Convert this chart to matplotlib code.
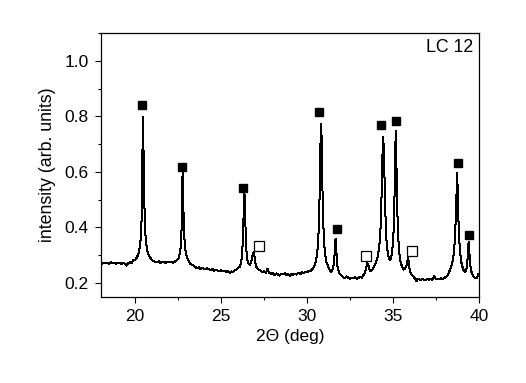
import matplotlib
matplotlib.use("Agg")
import matplotlib.pyplot as plt
from matplotlib.ticker import MultipleLocator

plt.rcParams['font.family'] = ['Liberation Sans', 'DejaVu Sans']

# ---- data ----
two_theta = [
    18.0, 18.1, 18.2, 18.3, 18.4, 18.5, 18.6, 18.7, 18.8, 18.9,
    19.0, 19.1, 19.2, 19.3, 19.4, 19.5, 19.6, 19.7, 19.8, 19.9,
    20.00, 20.10, 20.20, 20.25, 20.30, 20.35, 20.39, 20.42, 20.44, 20.46,
    20.48, 20.51, 20.55, 20.60, 20.65, 20.72, 20.80, 20.90, 21.00, 21.10,
    21.2, 21.3, 21.4, 21.5, 21.6, 21.7, 21.8, 21.9, 22.0, 22.1, 22.2, 22.3, 22.4, 22.5,
    22.55, 22.62, 22.67, 22.70, 22.73, 22.75, 22.77, 22.79, 22.82, 22.86,
    22.92, 23.00, 23.10, 23.20, 23.30,
    23.4, 23.5, 23.6, 23.7, 23.8, 23.9, 24.0, 24.1, 24.2, 24.3, 24.4, 24.5,
    24.6, 24.7, 24.8, 24.9, 25.0, 25.1, 25.2, 25.3, 25.4, 25.5, 25.6, 25.7,
    25.8, 25.9, 26.0,
    26.10, 26.17, 26.22, 26.27, 26.30, 26.33, 26.36, 26.39, 26.42, 26.46,
    26.52, 26.60, 26.68, 26.74, 26.80, 26.86, 26.90, 26.95, 27.00, 27.06,
    27.12, 27.18,
    27.3, 27.4, 27.5, 27.6, 27.7, 27.8, 27.9, 28.0, 28.1, 28.2, 28.3, 28.4,
    28.5, 28.6, 28.7, 28.8, 28.9, 29.0, 29.1, 29.2, 29.3, 29.4, 29.5, 29.6,
    29.7, 29.8, 29.9, 30.0, 30.1,
    30.12, 30.27, 30.42, 30.52, 30.60, 30.66, 30.70, 30.74, 30.77, 30.79,
    30.82, 30.85, 30.87, 30.90, 30.94, 30.98, 31.04, 31.12, 31.22, 31.30,
    31.39, 31.45,
    31.50, 31.56, 31.60, 31.63, 31.66, 31.69, 31.72, 31.76, 31.82, 31.90, 32.0,
    32.1, 32.2, 32.3, 32.4, 32.5, 32.6, 32.7, 32.8, 32.9, 33.0, 33.1, 33.2,
    33.3, 33.35,
    33.40, 33.45, 33.51, 33.57, 33.63, 33.70, 33.76, 33.82,
    33.90, 34.00, 34.10, 34.20, 34.27, 34.31, 34.35, 34.38, 34.40, 34.43,
    34.46, 34.48, 34.51, 34.55, 34.59, 34.65, 34.72, 34.78, 34.82, 34.86, 34.92,
    34.98, 35.03, 35.07, 35.10, 35.12, 35.14, 35.16, 35.18, 35.20, 35.23,
    35.27, 35.31, 35.38, 35.46, 35.55, 35.63, 35.70,
    35.76, 35.81, 35.85, 35.88, 35.91, 35.95, 36.02, 36.10, 36.20, 36.30,
    36.36, 36.42,
    36.5, 36.6, 36.7, 36.8, 36.9, 37.0, 37.1, 37.2, 37.3, 37.4, 37.5, 37.6,
    37.7, 37.8, 37.9, 38.0, 38.1, 38.2,
    38.30, 38.40, 38.48, 38.54, 38.59, 38.63, 38.66, 38.69, 38.71, 38.73,
    38.75, 38.78, 38.81, 38.85, 38.90, 38.97, 39.05, 39.12, 39.19,
    39.25, 39.30, 39.34, 39.37, 39.40, 39.43, 39.46, 39.50, 39.56, 39.64,
    39.72, 39.80, 39.86, 39.92, 39.97, 40.0,
]
intensity = [
    .272, .269, .273, .270, .271, .268, .274, .270, .272, .269,
    .271, .273, .268, .272, .270, .262, .271, .274, .272, .283,
    .283, .290, .305, .318, .340, .378, .44, .56, .72, .80,
    .74, .60, .47, .38, .34, .315, .300, .290, .282, .278,
    .276, .274, .278, .270, .276, .275, .271, .276, .274, .277, .272, .276, .280, .285,
    .292, .31, .34, .38, .47, .56, .606, .56, .45, .37,
    .32, .295, .282, .270, .265,
    .262, .258, .252, .256, .250, .254, .251, .248, .253, .249, .246, .250,
    .243, .247, .244, .242, .246, .241, .243, .240, .242, .236, .241, .240,
    .245, .248, .255,
    .258, .272, .30, .35, .41, .50, .525, .50, .41, .33,
    .285, .268, .265, .272, .288, .305, .310, .295, .272, .258,
    .252, .248,
    .245, .238, .242, .236, .250, .237, .233, .236, .228, .234, .231, .226,
    .233, .230, .235, .228, .232, .225, .232, .229, .234, .230, .236, .231,
    .238, .235, .240, .238, .244,
    .241, .246, .258, .277, .31, .362, .427, .535, .646, .72,
    .774, .72, .646, .535, .427, .362, .31, .277, .26, .250,
    .240, .245,
    .25, .27, .30, .34, .359, .34, .30, .265, .245, .232, .226,
    .221, .216, .223, .218, .214, .219, .216, .221, .213, .218, .222, .219,
    .230, .235,
    .245, .258, .272, .262, .250, .242, .244, .250,
    .258, .272, .29, .33, .39, .45, .56, .64, .69, .726,
    .69, .64, .55, .45, .38, .33, .30, .285, .281, .285, .30,
    .33, .38, .45, .55, .64, .70, .747, .70, .63, .52,
    .42, .36, .30, .27, .255, .248, .252,
    .258, .268, .282, .29, .275, .255, .238, .228, .222, .214,
    .205, .214,
    .213, .211, .214, .212, .210, .213, .212, .215, .211, .224, .212, .214,
    .212, .216, .213, .218, .222, .228,
    .245, .262, .28, .31, .35, .40, .45, .51, .56, .597,
    .56, .49, .42, .36, .31, .275, .255, .243, .238,
    .245, .262, .29, .325, .348, .325, .29, .262, .24, .228,
    .220, .218, .216, .225, .232, .228,
]

# phase markers
filled_x = [20.40, 22.73, 26.26, 30.71, 31.75, 34.29, 35.15, 38.78, 39.42]
filled_y = [0.841, 0.617, 0.541, 0.817, 0.394, 0.770, 0.783, 0.634, 0.372]
open_x = [27.19, 33.43, 36.08]
open_y = [0.334, 0.298, 0.316]

x_ticks = [20, 25, 30, 35, 40]
y_ticks = [0.2, 0.4, 0.6, 0.8, 1.0]

fig = plt.figure(figsize=(5.26, 3.83), dpi=100)
ax = fig.add_axes([0.1913, 0.2253, 0.7193, 0.6877])

ax.plot(two_theta, intensity, color='black', lw=0.72, antialiased=False)
ax.plot(filled_x, filled_y, ls='none', marker='s', ms=5.2, color='black')
ax.plot(open_x, open_y, ls='none', marker='s', ms=6.5, mfc='white',
        mec='black', mew=0.9)

ax.set_xlim(18, 40)
ax.set_ylim(0.15, 1.1)
ax.set_xticks(x_ticks)
ax.set_yticks(y_ticks)
ax.set_yticklabels([f"{v:.1f}" for v in y_ticks])
ax.xaxis.set_minor_locator(MultipleLocator(2.5))
ax.yaxis.set_minor_locator(MultipleLocator(0.1))
ax.tick_params(which='major', direction='out', length=4.5, width=0.8,
               labelsize=12.5, pad=4, top=False, right=False)
ax.tick_params(which='minor', direction='out', length=2.5, width=0.8,
               top=False, right=False)
for s in ax.spines.values():
    s.set_linewidth(0.9)

ax.set_xlabel('2\u0398 (deg)', fontsize=12.5, labelpad=4)
ax.set_ylabel('intensity (arb. units)', fontsize=12.8, labelpad=6)
ax.text(0.984, 0.945, 'LC 12', transform=ax.transAxes, ha='right',
        va='center', fontsize=12.8)

fig.savefig('out.png', dpi=100)
